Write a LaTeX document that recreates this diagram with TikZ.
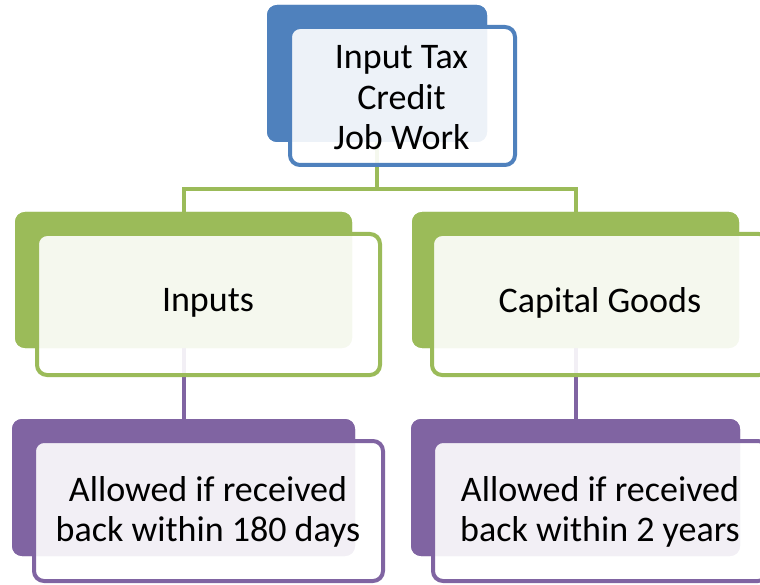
\documentclass[tikz,border=0pt]{standalone}
\usepackage{fontspec}
\setmainfont{Carlito}
\definecolor{cblue}{HTML}{4F81BD}
\definecolor{cgreen}{HTML}{9BBB59}
\definecolor{cpurple}{HTML}{8064A2}
\begin{document}
\begin{tikzpicture}[x=1pt,y=1pt,
  backbox/.style={rectangle, rounded corners=10pt, inner sep=0pt, draw=none},
  frontbox/.style={rectangle, rounded corners=10pt, inner sep=0pt, line width=4pt, fill=white, fill opacity=0.9, draw opacity=1},
  lbl/.style={align=center, inner sep=0pt, font=\fontsize{36}{40.5}\selectfont},
  conn/.style={line width=4pt}
]
\useasboundingbox (0,0) rectangle (760,-585);
\clip (0,0) rectangle (760,-585);
% back boxes (positions for connectors)
\node[backbox, fill=cblue, minimum width=220, minimum height=137] (topback) at (377,-73.5) {};
\node[backbox, fill=cgreen, minimum width=337, minimum height=136] (inback) at (183.5,-280) {};
\node[backbox, fill=cgreen, minimum width=327, minimum height=136] (cgback) at (575.5,-280) {};
\node[backbox, fill=cpurple, minimum width=343, minimum height=137] (alback) at (183.5,-487.5) {};
\node[backbox, fill=cpurple, minimum width=329, minimum height=137] (arback) at (575.5,-487.5) {};
% connectors
\draw[conn, cgreen] (topback.south) -- ++(0,-47) -| (inback.north);
\draw[conn, cgreen] (topback.south) ++(0,-47) -| (cgback.north);
\draw[conn, cpurple] (inback.south) -- (alback.north);
\draw[conn, cpurple] (cgback.south) -- (arback.north);
% back boxes again, over the connectors
\node[backbox, fill=cblue, minimum width=220, minimum height=137] (topbackb) at (377,-73.5) {};
\node[backbox, fill=cgreen, minimum width=337, minimum height=136] (inbackb) at (183.5,-280) {};
\node[backbox, fill=cgreen, minimum width=327, minimum height=136] (cgbackb) at (575.5,-280) {};
\node[backbox, fill=cpurple, minimum width=343, minimum height=137] (albackb) at (183.5,-487.5) {};
\node[backbox, fill=cpurple, minimum width=329, minimum height=137] (arbackb) at (575.5,-487.5) {};
% front boxes
\node[frontbox, draw=cblue, minimum width=225, minimum height=138] (topfront) at (402.5,-96) {};
\node[frontbox, draw=cgreen, minimum width=343, minimum height=141] (infront) at (208.5,-304.5) {};
\node[frontbox, draw=cgreen, minimum width=337, minimum height=141] (cgfront) at (600.5,-304.5) {};
\node[frontbox, draw=cpurple, minimum width=349, minimum height=140] (alfront) at (208.5,-511) {};
\node[frontbox, draw=cpurple, minimum width=335, minimum height=140] (arfront) at (600.5,-511) {};
% labels
\node[lbl] (toptext) at (401.5,-98) {Input Tax\\Credit\\Job Work};
\node[lbl] (intext) at (208,-303) {Inputs};
\node[lbl] (cgtext) at (600,-303) {Capital Goods};
\node[lbl] (altext) at (208,-512) {Allowed if received\\back within 180 days};
\node[lbl] (artext) at (600,-512) {Allowed if received\\back within 2 years};
\end{tikzpicture}
\end{document}
